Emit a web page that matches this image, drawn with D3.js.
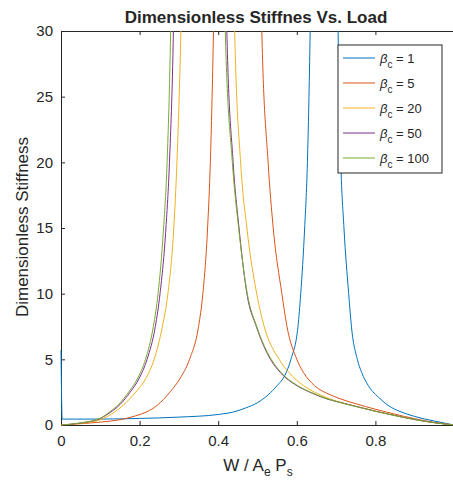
<!DOCTYPE html>
<html>
<head>
<meta charset="utf-8">
<script src="https://cdn.jsdelivr.net/npm/d3@7"></script>
<style>
  body { margin: 0; background: #fff; }
  text { font-family: "Liberation Sans", Arial, sans-serif; fill: #262626; }
</style>
</head>
<body>
<svg id="chart"></svg>
<script>
// values (W / Ae Ps, dimensionless stiffness)
const labels = ["1", "5", "20", "50", "100"];
const colors = ["#0072BD", "#D95319", "#EDB120", "#7E2F8E", "#77AC30"];

const w1 = [0, 0.003, 0.1, 0.2, 0.3, 0.4, 0.44, 0.47, 0.5, 0.527, 0.55, 0.57, 0.585, 0.603, 0.61, 0.62, 0.627, 0.634, 0.644, 0.669, 0.694, 0.705, 0.712, 0.72, 0.732, 0.739, 0.754, 0.765, 0.782, 0.812, 0.832, 0.865, 0.9, 0.95, 1.0];
const k1 = [5.7, 0.45, 0.45, 0.5, 0.6, 0.8, 1.0, 1.3, 1.7, 2.3, 3.0, 3.8, 5, 7.5, 10, 15, 20, 30, 55, 300, 55, 30, 20, 15, 10, 7.5, 5, 4, 3, 2, 1.5, 1, 0.65, 0.3, 0];

const w5 = [0, 0.05, 0.1, 0.15, 0.19, 0.218, 0.245, 0.277, 0.302, 0.327, 0.35, 0.361, 0.373, 0.38, 0.388, 0.4, 0.45, 0.5, 0.511, 0.527, 0.54, 0.562, 0.575, 0.6, 0.617, 0.645, 0.685, 0.71, 0.75, 0.8, 0.85, 0.9, 0.95, 1.0];
const k5 = [0, 0.1, 0.22, 0.4, 0.7, 1.0, 1.5, 2.5, 3.5, 5, 7.5, 10, 15, 20, 30, 55, 300, 55, 30, 20, 15, 10, 7.5, 5, 4, 3, 2.3, 2.0, 1.62, 1.2, 0.82, 0.48, 0.2, 0];

const w20 = [0, 0.05, 0.1, 0.137, 0.158, 0.19, 0.215, 0.237, 0.258, 0.272, 0.287, 0.295, 0.305, 0.318, 0.37, 0.43, 0.442, 0.457, 0.473, 0.498, 0.517, 0.555, 0.58, 0.617, 0.645, 0.683, 0.71, 0.75, 0.8, 0.85, 0.9, 0.95, 1.0];
const k20 = [0, 0.12, 0.4, 1.0, 1.5, 2.5, 3.5, 5, 7.5, 10, 15, 20, 30, 55, 300, 55, 30, 20, 15, 10, 7.5, 5, 4, 3, 2.5, 2.0, 1.74, 1.43, 1.06, 0.73, 0.43, 0.18, 0];

const w50 = [0, 0.05, 0.1, 0.125, 0.15, 0.176, 0.198, 0.219, 0.24, 0.252, 0.267, 0.276, 0.286, 0.297, 0.35, 0.41, 0.422, 0.438, 0.453, 0.473, 0.497, 0.533, 0.558, 0.6, 0.633, 0.675, 0.71, 0.75, 0.8, 0.85, 0.9, 0.95, 1.0];
const k50 = [0, 0.15, 0.5, 0.95, 1.55, 2.5, 3.5, 5, 7.5, 10, 15, 20, 30, 55, 300, 55, 30, 20, 15, 10, 7.5, 5, 4, 3, 2.5, 2.0, 1.72, 1.42, 1.05, 0.72, 0.42, 0.18, 0];

const w100 = [0, 0.05, 0.1, 0.123, 0.147, 0.172, 0.194, 0.215, 0.235, 0.247, 0.261, 0.27, 0.279, 0.29, 0.345, 0.407, 0.418, 0.436, 0.452, 0.474, 0.498, 0.535, 0.56, 0.602, 0.635, 0.677, 0.71, 0.75, 0.8, 0.85, 0.9, 0.95, 1.0];
const k100 = [0, 0.16, 0.52, 0.98, 1.58, 2.5, 3.5, 5, 7.5, 10, 15, 20, 30, 55, 300, 55, 30, 20, 15, 10, 7.5, 5, 4, 3, 2.5, 2.0, 1.71, 1.41, 1.04, 0.71, 0.41, 0.17, 0];

const xTicks = [0, 0.2, 0.4, 0.6, 0.8];
const yTicks = [0, 5, 10, 15, 20, 25, 30];

const series = [[w1, k1], [w5, k5], [w20, k20], [w50, k50], [w100, k100]]
  .map(([w, k], i) => ({ label: labels[i], color: colors[i], pts: w.map((v, j) => [v, k[j]]) }));

const margin = { top: 31, left: 61 };
const svgWidth = 453, svgHeight = 481;
const width = 393, height = 394;

const root = d3.select("#chart").attr("width", svgWidth).attr("height", svgHeight);
const svg = root.append("g").attr("transform", `translate(${margin.left},${margin.top})`);

const x = d3.scaleLinear().domain([0, 1]).range([0, width]);
const y = d3.scaleLinear().domain([0, 30]).range([height, 0]);

svg.append("clipPath").attr("id", "clip")
  .append("rect").attr("x", -1.5).attr("width", width + 1.5).attr("height", height + 0.5);

const line = d3.line().x(d => x(d[0])).y(d => y(d[1])).curve(d3.curveMonotoneX);

// axes, MATLAB style: ticks inside, box on top
const styleAxis = g => {
  g.select(".domain").attr("stroke", "#262626");
  g.selectAll(".tick line").attr("stroke", "#262626");
  g.selectAll(".tick text").style("font-size", "15px").attr("fill", "#262626");
};

svg.append("g")
  .attr("transform", `translate(0,${height})`)
  .call(d3.axisBottom(x).tickValues(xTicks).tickFormat(d3.format("")).tickSizeInner(-4).tickSizeOuter(0).tickPadding(10))
  .call(styleAxis);

svg.append("g")
  .call(d3.axisTop(x).tickValues(xTicks).tickFormat("").tickSizeInner(-4).tickSizeOuter(0))
  .call(styleAxis);

svg.append("g")
  .call(d3.axisLeft(y).tickValues(yTicks).tickSizeInner(-4).tickSizeOuter(0).tickPadding(8))
  .call(styleAxis);

svg.append("g").attr("clip-path", "url(#clip)")
  .selectAll("path")
  .data(series)
  .enter()
  .append("path")
  .attr("d", d => line(d.pts))
  .attr("fill", "none")
  .attr("stroke", d => d.color)
  .attr("stroke-width", 1);

// title and axis labels
root.append("text")
  .attr("x", 256).attr("y", 23)
  .attr("text-anchor", "middle")
  .style("font-size", "17px").style("font-weight", "bold")
  .attr("fill", "#000")
  .text("Dimensionless Stiffnes Vs. Load");

root.append("text")
  .attr("transform", "translate(28,227) rotate(-90)")
  .attr("text-anchor", "middle")
  .style("font-size", "17px")
  .text("Dimensionless Stiffness");

const xl = root.append("text")
  .attr("x", 258).attr("y", 471)
  .attr("text-anchor", "middle")
  .style("font-size", "17px");
xl.append("tspan").text("W / A");
xl.append("tspan").attr("dy", 5).style("font-size", "12px").text("e");
xl.append("tspan").attr("dy", -5).text(" P");
xl.append("tspan").attr("dy", 5).style("font-size", "12px").text("s");

// legend
const lg = root.append("g").attr("transform", "translate(338,45)");
lg.append("rect")
  .attr("width", 104).attr("height", 128)
  .attr("fill", "#fff").attr("stroke", "#262626").attr("stroke-width", 1);

const item = lg.selectAll(".item")
  .data(series)
  .enter()
  .append("g")
  .attr("transform", (d, i) => `translate(0,${13 + i * 25})`);

item.append("line")
  .attr("x1", 5).attr("x2", 37)
  .attr("stroke", d => d.color).attr("stroke-width", 1);

const lt = item.append("text")
  .attr("x", 42).attr("y", 5)
  .style("font-size", "13px");
lt.append("tspan").style("font-style", "italic").text("β");
lt.append("tspan").attr("dy", 5).style("font-size", "10px").text("c");
lt.append("tspan").attr("dy", -5).text(d => " = " + d.label);
</script>
</body>
</html>
